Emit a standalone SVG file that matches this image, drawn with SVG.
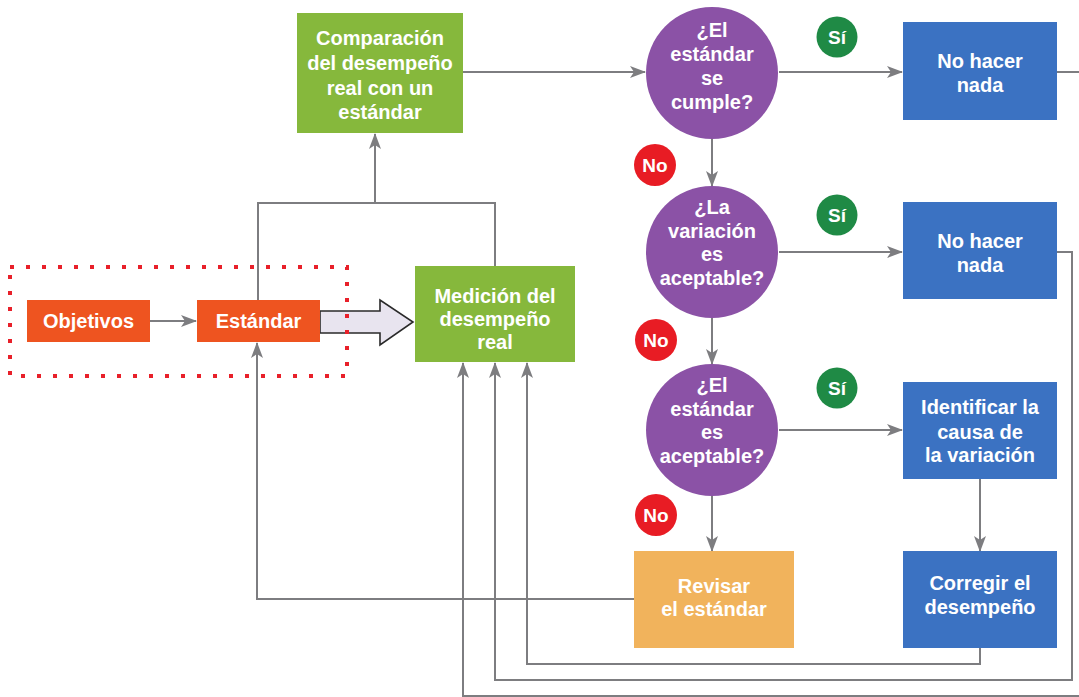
<svg xmlns="http://www.w3.org/2000/svg" width="1079" height="697" viewBox="0 0 1079 697">
<defs>
<marker id="ah" markerWidth="16" markerHeight="12" refX="15" refY="6" orient="auto" markerUnits="userSpaceOnUse">
<path d="M0,0 L16,6 L0,12 L4,6 Z" fill="#7d7d80"/>
</marker>
<style>
.t{font-family:"Liberation Sans",Arial,sans-serif;font-weight:bold;font-size:20px;fill:#fff;text-anchor:middle}
.b{font-family:"Liberation Sans",Arial,sans-serif;font-weight:bold;font-size:19px;fill:#fff;text-anchor:middle}
.c{fill:none;stroke:#7d7d80;stroke-width:2}
.a{marker-end:url(#ah)}
.or{fill:#ee5420}
.gr{fill:#86b83c}
.pu{fill:#8b52a6}
.bl{fill:#3b72c2}
.rv{fill:#f1b35c}
.si{fill:#1f8a45}
.no{fill:#e81c24}
</style>
</defs>
<rect width="1079" height="697" fill="#fff"/>

<g id="connectors">
<line class="c a" x1="150" y1="321" x2="196" y2="321"/>
<polyline class="c" points="258,300 258,203 495,203 495,266"/>
<line class="c a" x1="375" y1="203" x2="375" y2="134"/>
<line class="c a" x1="463" y1="72" x2="645" y2="72"/>
<line class="c a" x1="779" y1="72" x2="902" y2="72"/>
<line class="c" x1="1057" y1="72" x2="1079" y2="72"/>
<line class="c a" x1="712" y1="139" x2="712" y2="186"/>
<line class="c a" x1="779" y1="252" x2="902" y2="252"/>
<polyline class="c a" points="1057,252 1072,252 1072,680 495,680 495,363"/>
<line class="c a" x1="712" y1="318" x2="712" y2="364"/>
<line class="c a" x1="779" y1="430" x2="902" y2="430"/>
<line class="c a" x1="980" y1="479" x2="980" y2="551"/>
<polyline class="c a" points="980,648 980,664 527,664 527,363"/>
<line class="c a" x1="712" y1="496" x2="712" y2="551"/>
<polyline class="c a" points="634,599 257,599 257,343"/>
<polyline class="c a" points="1079,696 463,696 463,363"/>
<polygon points="320,311 380,311 380,300 413,322 380,345 380,333 320,333" fill="#e8e4ef" stroke="#2a2a2a" stroke-width="1.6"/>
</g>

<g id="grupo-planificacion">
<rect x="10" y="267" width="337" height="109" fill="none" stroke="#e8202a" stroke-width="4" stroke-dasharray="4 12"/>
</g>

<g id="objetivos">
<rect class="or" x="27" y="300" width="123" height="42"/>
<text class="t" x="88.5" y="328">Objetivos</text>
</g>

<g id="estandar">
<rect class="or" x="197" y="300" width="123" height="42"/>
<text class="t" x="258.5" y="328">Estándar</text>
</g>

<g id="medicion">
<rect class="gr" x="415" y="266" width="160" height="96"/>
<text class="t" x="495" y="303">Medición del</text>
<text class="t" x="495" y="326">desempeño</text>
<text class="t" x="495" y="349">real</text>
</g>

<g id="comparacion">
<rect class="gr" x="297" y="13" width="166" height="120"/>
<text class="t" x="380" y="45">Comparación</text>
<text class="t" x="380" y="70">del desempeño</text>
<text class="t" x="380" y="95">real con un</text>
<text class="t" x="380" y="119">estándar</text>
</g>

<g id="decision1">
<circle class="pu" cx="712" cy="73" r="66"/>
<text class="t" x="712" y="37">¿El</text>
<text class="t" x="712" y="61">estándar</text>
<text class="t" x="712" y="85">se</text>
<text class="t" x="712" y="109">cumple?</text>
</g>

<g id="decision2">
<circle class="pu" cx="712" cy="252" r="66"/>
<text class="t" x="712" y="214">¿La</text>
<text class="t" x="712" y="238">variación</text>
<text class="t" x="712" y="261">es</text>
<text class="t" x="712" y="285">aceptable?</text>
</g>

<g id="decision3">
<circle class="pu" cx="712" cy="430" r="66"/>
<text class="t" x="712" y="392">¿El</text>
<text class="t" x="712" y="416">estándar</text>
<text class="t" x="712" y="439">es</text>
<text class="t" x="712" y="463">aceptable?</text>
</g>

<g id="no-hacer-nada-1">
<rect class="bl" x="903" y="22" width="154" height="98"/>
<text class="t" x="980" y="68">No hacer</text>
<text class="t" x="980" y="92">nada</text>
</g>

<g id="no-hacer-nada-2">
<rect class="bl" x="903" y="202" width="154" height="97"/>
<text class="t" x="980" y="248">No hacer</text>
<text class="t" x="980" y="272">nada</text>
</g>

<g id="identificar">
<rect class="bl" x="903" y="382" width="154" height="97"/>
<text class="t" x="980" y="414">Identificar la</text>
<text class="t" x="980" y="439">causa de</text>
<text class="t" x="980" y="462">la variación</text>
</g>

<g id="corregir">
<rect class="bl" x="903" y="551" width="154" height="97"/>
<text class="t" x="980" y="590">Corregir el</text>
<text class="t" x="980" y="614">desempeño</text>
</g>

<g id="revisar">
<rect class="rv" x="634" y="551" width="160" height="97"/>
<text class="t" x="714" y="593">Revisar</text>
<text class="t" x="714" y="616">el estándar</text>
</g>

<g id="etiquetas">
<circle class="si" cx="837" cy="37" r="20.5"/>
<text class="b" x="837" y="44">Sí</text>
<circle class="si" cx="837" cy="215" r="20.5"/>
<text class="b" x="837" y="222">Sí</text>
<circle class="si" cx="837" cy="388" r="20.5"/>
<text class="b" x="837" y="395">Sí</text>
<circle class="no" cx="655" cy="165" r="21"/>
<text class="b" x="655" y="172">No</text>
<circle class="no" cx="656" cy="340" r="21"/>
<text class="b" x="656" y="347">No</text>
<circle class="no" cx="656" cy="515" r="21"/>
<text class="b" x="656" y="522">No</text>
</g>
</svg>
